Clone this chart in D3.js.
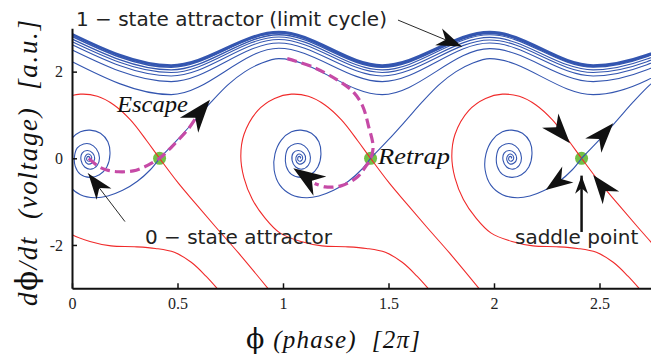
<!DOCTYPE html>
<html>
<head>
<meta charset="utf-8">
<script src="https://d3js.org/d3.v7.min.js"></script>
<style>
  body { margin: 0; background: #fff; }
  svg { display: block; }
  text { white-space: pre; }
</style>
</head>
<body>
<svg id="canvas"></svg>
<script>
// Canvas size and plot box
var canvasWidth = 651;
var canvasHeight = 358;
var margin = {top: 28.3, right: -1.25, bottom: 69.7, left: 72};

// Axis ticks
var xTicks = [0, 0.5, 1, 1.5, 2, 2.5];
var yTicks = [-2, 0, 2];

// Fixed points (phase, in units of 2pi)
var saddles = [0.415, 1.415, 2.415];
var foci = [0.08, 1.08, 2.08];

// Spiral around each focus, from the saddle inwards (dphi from focus, voltage)
var spiralRel = [
  [0.335, 0.0], [0.29, -0.27], [0.23, -0.53], [0.16, -0.74], [0.09, -0.87],
  [0.03, -0.91], [-0.04, -0.84], [-0.095, -0.62], [-0.122, -0.27], [-0.118, 0.1],
  [-0.088, 0.42], [-0.04, 0.61], [0.005, 0.65], [0.055, 0.58], [0.09, 0.38],
  [0.10, 0.10], [0.085, -0.20], [0.05, -0.38], [0.005, -0.44], [-0.04, -0.37],
  [-0.065, -0.18], [-0.068, 0.05], [-0.055, 0.24], [-0.025, 0.33], [0.005, 0.33],
  [0.035, 0.22], [0.05, 0.02], [0.04, -0.16], [0.01, -0.25], [-0.02, -0.20],
  [-0.037, -0.05], [-0.032, 0.12], [-0.008, 0.18], [0.018, 0.12], [0.027, -0.02],
  [0.015, -0.11], [-0.005, -0.13], [-0.019, -0.04], [-0.014, 0.07], [0.002, 0.095],
  [0.013, 0.03], [0.008, -0.05], [-0.006, -0.06], [-0.01, 0.01], [-0.003, 0.045],
  [0.004, 0.02], [0.0, 0.0]
];

// Unstable branch leaving each saddle upwards (dphi from saddle, voltage)
var risingRel = [
  [0, 0], [0.085, 0.43], [0.165, 0.86], [0.245, 1.30], [0.325, 1.70],
  [0.405, 2.0], [0.485, 2.2], [0.565, 2.30]
];

// Where each rising branch goes on once it meets the running band
var risingTails = [
  [[1.47, 1.47], [1.98, 2.53], [2.47, 1.77], [2.98, 2.64]],
  [[2.47, 1.47], [2.98, 2.53]],
  []
];

// Stable manifold of each saddle, red (dphi from saddle, voltage)
var separatrixRel = [
  [0.29, -3.1], [0.22, -2.72], [0.15, -2.40], [0.07, -2.17], [-0.02, -2.08],
  [-0.12, -2.04], [-0.23, -2.02], [-0.33, -1.92], [-0.43, -1.72], [-0.50, -1.38],
  [-0.56, -0.95], [-0.60, -0.45], [-0.615, 0.05], [-0.60, 0.55], [-0.535, 1.10],
  [-0.455, 1.38], [-0.375, 1.48], [-0.295, 1.43], [-0.216, 1.23], [-0.137, 0.88],
  [-0.06, 0.40], [0, 0], [0.09, -0.58], [0.17, -1.04], [0.265, -1.58],
  [0.375, -2.19], [0.53, -3.1]
];

// Running trajectories near the limit cycle, read at the maxima / minima
var bandPhi = [-0.02, 0.47, 0.98, 1.47, 1.98, 2.47, 2.98];
var bandValues = [
  [2.91, 2.14, 2.91, 2.14, 2.91, 2.14, 2.91],
  [2.86, 2.10, 2.89, 2.12, 2.90, 2.13, 2.91],
  [2.80, 2.04, 2.85, 2.10, 2.88, 2.12, 2.90],
  [2.74, 1.98, 2.80, 2.04, 2.85, 2.10, 2.88],
  [2.67, 1.90, 2.74, 1.98, 2.79, 2.04, 2.84],
  [2.55, 1.77, 2.66, 1.90, 2.73, 1.98, 2.78],
  [2.28, 1.47, 2.54, 1.77, 2.66, 1.90, 2.73]
];

// Dashed escape and retrap paths
var escapePath = [
  [0.08, 0], [0.126, -0.19], [0.165, -0.27], [0.22, -0.31], [0.29, -0.29],
  [0.347, -0.19], [0.385, -0.09], [0.415, 0], [0.474, 0.27], [0.553, 0.69], [0.583, 0.90]
];
var retrapPath = [
  [1.02, 2.30], [1.14, 2.11], [1.26, 1.80], [1.335, 1.52], [1.378, 1.2],
  [1.405, 0.75], [1.427, 0.27], [1.415, -0.02], [1.39, -0.2], [1.355, -0.42],
  [1.278, -0.63], [1.20, -0.66], [1.15, -0.58]
];

// Arrow heads: tip, a point behind it, length in px, and shaft width (0 = none)
var arrowTips = [[0.654, 1.35], [1.049, -0.23], [1.847, 2.58], [0.077, -0.35],
  [2.36, 0.35], [2.565, 0.81], [2.245, -0.73], [2.47, -0.385], [2.415, -0.40]];
var arrowBacks = [[0.583, 0.93], [1.144, -0.54], [1.545, 3.19], [0.251, -1.46],
  [2.265, 0.88], [2.47, 0.29], [2.345, -0.39], [2.553, -0.905], [2.415, -1.70]];
var arrowSizes = [33, 32, 25, 26, 30, 30, 27, 29, 18];
var arrowShafts = [0, 0, 0.9, 0.9, 0, 0, 0, 0, 2.5];

var blue = '#3456b0';
var red = '#f02a2a';
var magenta = '#c64aa6';

var svg = d3.select('#canvas')
  .attr('width', canvasWidth)
  .attr('height', canvasHeight);

// Scales
var x = d3.scaleLinear()
  .domain([0, 2.75])
  .range([margin.left, canvasWidth - margin.right]);

var y = d3.scaleLinear()
  .domain([-3, 3])
  .range([canvasHeight - margin.bottom, margin.top]);

svg.append('defs')
  .append('clipPath')
  .attr('id', 'plot-clip')
  .append('rect')
  .attr('x', margin.left)
  .attr('y', margin.top)
  .attr('width', canvasWidth - margin.left)
  .attr('height', y(-3) - y(3));

var plot = svg.append('g')
  .attr('clip-path', 'url(#plot-clip)');

function line(curve) {
  return d3.line()
    .x(function(d) { return x(d[0]); })
    .y(function(d) { return y(d[1]); })
    .curve(curve);
}

function shift(points, dx) {
  return points.map(function(p) { return [p[0] + dx, p[1]]; });
}

// Saddle points
plot.selectAll('.saddle')
  .data(saddles)
  .enter()
  .append('circle')
  .attr('class', 'saddle')
  .attr('cx', function(d) { return x(d); })
  .attr('cy', y(0))
  .attr('r', 6.5)
  .attr('fill', '#72c046');

// Separatrices
plot.selectAll('.separatrix')
  .data(saddles)
  .enter()
  .append('path')
  .attr('class', 'separatrix')
  .attr('d', function(d) { return line(d3.curveCatmullRom)(shift(separatrixRel, d)); })
  .attr('fill', 'none')
  .attr('stroke', red)
  .attr('stroke-width', 1.1);

// Running band (limit cycle on top)
plot.selectAll('.band')
  .data(bandValues)
  .enter()
  .append('path')
  .attr('class', 'band')
  .attr('d', function(vals) {
    return line(d3.curveMonotoneX)(bandPhi.map(function(p, i) { return [p, vals[i]]; }));
  })
  .attr('fill', 'none')
  .attr('stroke', blue)
  .attr('stroke-width', function(d, i) { return i === 0 ? 2.8 : (i < 3 ? 1.4 : 1.1); });

// Unstable branches going up into the band
plot.selectAll('.rising')
  .data(saddles)
  .enter()
  .append('path')
  .attr('class', 'rising')
  .attr('d', function(d, i) {
    return line(d3.curveMonotoneX)(shift(risingRel, d).concat(risingTails[i]));
  })
  .attr('fill', 'none')
  .attr('stroke', blue)
  .attr('stroke-width', 1.1);

// Spirals into each focus
plot.selectAll('.spiral')
  .data(foci)
  .enter()
  .append('path')
  .attr('class', 'spiral')
  .attr('d', function(d) { return line(d3.curveCatmullRom)(shift(spiralRel, d)); })
  .attr('fill', 'none')
  .attr('stroke', blue)
  .attr('stroke-width', 1.1);

// Escape / retrap dashed paths
plot.selectAll('.switch')
  .data([escapePath, retrapPath])
  .enter()
  .append('path')
  .attr('class', 'switch')
  .attr('d', line(d3.curveCatmullRom))
  .attr('fill', 'none')
  .attr('stroke', magenta)
  .attr('stroke-width', 3.2)
  .attr('stroke-dasharray', '10,5');

// Arrows
var arrows = svg.append('g').attr('class', 'arrows');

arrowTips.forEach(function(tip, i) {
  var tx = x(tip[0]), ty = y(tip[1]);
  var bx = x(arrowBacks[i][0]), by = y(arrowBacks[i][1]);
  var s = arrowSizes[i];
  var angle = Math.atan2(ty - by, tx - bx) * 180 / Math.PI;

  if (arrowShafts[i]) {
    arrows.append('line')
      .attr('x1', bx).attr('y1', by)
      .attr('x2', tx).attr('y2', ty)
      .attr('stroke', '#111')
      .attr('stroke-width', arrowShafts[i]);
  }

  arrows.append('path')
    .attr('d', 'M0,0L' + (-s) + ',' + (-0.36 * s) + 'L' + (-0.7 * s) + ',0L' + (-s) + ',' + (0.36 * s) + 'Z')
    .attr('transform', 'translate(' + tx + ',' + ty + ') rotate(' + angle + ')')
    .attr('fill', '#111');
});

// Annotations
var sans = '"DejaVu Sans", Verdana, sans-serif';
var serif = '"Liberation Serif", "Times New Roman", serif';
var phiFont = '"DejaVu Serif", serif';

svg.append('text')
  .attr('x', 76).attr('y', 26)
  .style('font-family', sans).style('font-size', '20px').attr('fill', '#222')
  .text('1 \u2212 state attractor (limit cycle)');

svg.append('text')
  .attr('x', 145).attr('y', 243.5)
  .style('font-family', sans).style('font-size', '20px').attr('fill', '#222')
  .text('0 \u2212 state attractor');

svg.append('text')
  .attr('x', 515).attr('y', 244)
  .style('font-family', sans).style('font-size', '20px').attr('fill', '#222')
  .text('saddle point');

svg.append('text')
  .attr('x', 117).attr('y', 111.5)
  .attr('textLength', 71).attr('lengthAdjust', 'spacingAndGlyphs')
  .style('font-family', serif).style('font-style', 'italic').style('font-size', '24px').attr('fill', '#111')
  .text('Escape');

svg.append('text')
  .attr('x', 378).attr('y', 163.5)
  .attr('textLength', 72).attr('lengthAdjust', 'spacingAndGlyphs')
  .style('font-family', serif).style('font-style', 'italic').style('font-size', '24px').attr('fill', '#111')
  .text('Retrap');

// Axes
var xAxis = d3.axisBottom(x)
  .tickValues(xTicks)
  .tickFormat(function(d) { return String(d); })
  .tickSizeInner(-5)
  .tickSizeOuter(0)
  .tickPadding(9);

var yAxis = d3.axisLeft(y)
  .tickValues(yTicks)
  .tickFormat(function(d) { return String(d); })
  .tickSizeInner(-5)
  .tickSizeOuter(0)
  .tickPadding(9);

svg.append('g')
  .attr('class', 'x-axis')
  .attr('transform', 'translate(0,' + y(-3) + ')')
  .call(xAxis);

svg.append('g')
  .attr('class', 'y-axis')
  .attr('transform', 'translate(' + margin.left + ',0)')
  .call(yAxis);

svg.selectAll('.x-axis path, .y-axis path')
  .attr('stroke', '#111')
  .attr('stroke-width', 2);
svg.selectAll('.x-axis line, .y-axis line')
  .attr('stroke', '#111')
  .attr('stroke-width', 1.5);
svg.selectAll('.x-axis text, .y-axis text')
  .style('font-family', serif)
  .style('font-size', '16px')
  .attr('fill', '#222');

// Axis labels
var xLabel = svg.append('text')
  .attr('x', 246).attr('y', 348)
  .attr('textLength', 174).attr('lengthAdjust', 'spacing')
  .style('font-family', serif).style('font-size', '25px').attr('fill', '#111');
xLabel.append('tspan').style('font-family', phiFont).style('font-size', '27px').text('\u03d5');
xLabel.append('tspan').style('font-style', 'italic').text(' (phase)  [2\u03c0]');

var yLabel = svg.append('text')
  .attr('transform', 'translate(37,306) rotate(-90)')
  .attr('textLength', 286).attr('lengthAdjust', 'spacing')
  .style('font-family', serif).style('font-size', '27px').attr('fill', '#111');
yLabel.append('tspan').style('font-style', 'italic').text('d');
yLabel.append('tspan').style('font-family', phiFont).style('font-size', '29px').text('\u03d5');
yLabel.append('tspan').style('font-style', 'italic').text('/dt  (voltage)  [a.u.]');
</script>
</body>
</html>
